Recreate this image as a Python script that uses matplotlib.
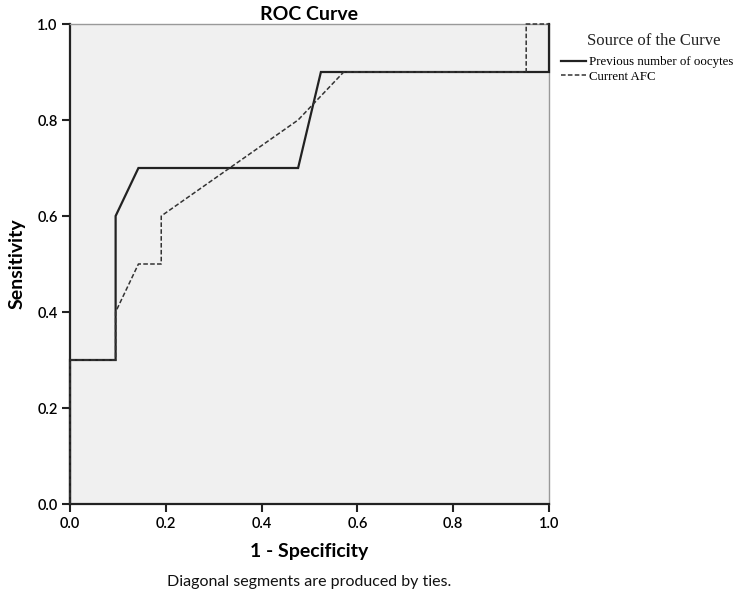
import matplotlib
matplotlib.use("Agg")
import matplotlib.pyplot as plt
import numpy as np

# Data (1 - specificity, sensitivity)
prev_fpr = [0.0, 0.0, 2/21, 2/21, 3/21, 10/21, 11/21, 1.0, 1.0]
prev_tpr = [0.0, 0.3, 0.3, 0.6, 0.7, 0.7, 0.9, 0.9, 1.0]
afc_fpr = [0.0, 0.0, 2/21, 2/21, 3/21, 4/21, 4/21, 10/21, 12/21, 20/21, 20/21, 1.0]
afc_tpr = [0.0, 0.3, 0.3, 0.4, 0.5, 0.5, 0.6, 0.8, 0.9, 0.9, 1.0, 1.0]
ticks = [0.0, 0.2, 0.4, 0.6, 0.8, 1.0]
tick_labels = ["0.0", "0.2", "0.4", "0.6", "0.8", "1.0"]

W, H = 742, 593
fig = plt.figure(figsize=(W/100, H/100), dpi=100)
ax = fig.add_axes([70/W, 1 - 504/H, (549-70)/W, (504-24)/H])
ax.set_facecolor("#f0f0f0")

ax.plot(prev_fpr, prev_tpr, color="#222222", lw=1.6, ls="-",
        label="Previous number of oocytes", solid_joinstyle="miter",
        clip_on=False, zorder=3)
ax.plot(afc_fpr, afc_tpr, color="#333333", lw=1.1, ls=(0, (3, 1.5)),
        label="Current AFC", clip_on=False, zorder=3)

ax.set_xlim(0, 1)
ax.set_ylim(0, 1)
ax.set_xticks(ticks)
ax.set_xticklabels(tick_labels)
ax.set_yticks(ticks)
ax.set_yticklabels(tick_labels)

for s in ["top", "right"]:
    ax.spines[s].set_color("#999999")
    ax.spines[s].set_linewidth(1.0)
for s in ["left", "bottom"]:
    ax.spines[s].set_color("#222222")
    ax.spines[s].set_linewidth(1.6)

ax.tick_params(direction="out", length=6, width=1.5, color="#222222",
               labelsize=10.5, pad=3)
for lbl in ax.get_xticklabels() + ax.get_yticklabels():
    lbl.set_family("Lato")
    lbl.set_fontweight("semibold")

ax.set_title("ROC Curve", family="Lato", fontweight="bold", fontsize=14, pad=3)
ax.set_xlabel("1 - Specificity", family="Lato", fontweight="bold", fontsize=14, labelpad=9)
ax.set_ylabel("Sensitivity", family="Lato", fontweight="bold", fontsize=14, labelpad=8)

fig.text((70+549)/2/W, 1 - 582/H, "Diagonal segments are produced by ties.",
         family="Lato", fontsize=11.5, ha="center", va="center", color="#111111")

fig.text(654/W, 1 - 41/H, "Source of the Curve", family="Liberation Serif",
         fontsize=12, ha="center", va="center", color="#222222")
leg = ax.legend(loc="upper left", bbox_to_anchor=(561/W, 1 - 56/H),
                bbox_transform=fig.transFigure, frameon=False,
                prop={"family": "Liberation Serif", "size": 9.3},
                handlelength=1.9, handletextpad=0.25, labelspacing=0.2,
                borderaxespad=0, borderpad=0)

fig.savefig("out.png", dpi=100, facecolor="white")
